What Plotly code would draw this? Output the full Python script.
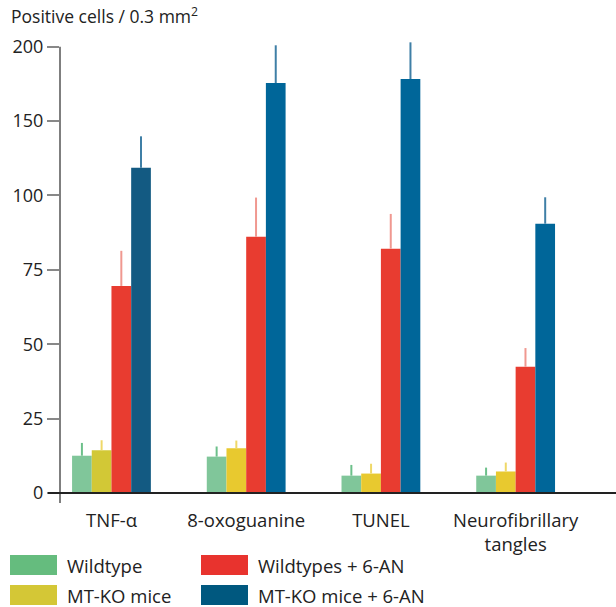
import plotly.graph_objects as go

# Data: positive cells per 0.3 mm^2 (mean and upper error)
categories = ["TNF-α", "8-oxoguanine", "TUNEL", "Neurofibrillary<br>tangles"]
wildtype = [12.5, 12.2, 5.8, 5.8]
wildtype_err = [4.3, 3.4, 3.6, 2.7]
mtko = [14.3, 15.0, 6.5, 7.2]
mtko_err = [3.4, 2.6, 3.3, 3.0]
wildtype_6an = [69.6, 86.1, 82.1, 42.4]
wildtype_6an_err = [11.8, 13.2, 11.7, 6.3]
mtko_6an = [118.6, 175.6, 178.3, 90.5]
mtko_6an_err = [21.2, 25.4, 24.7, 8.9]

tick_values = [0, 25, 50, 75, 100, 150, 200]

W, H = 616, 607
ML, MR, MT, MB = 60, 0, 23, 104
Y_MIN, Y_MAX = -3.4, 158
FONT = "Open Sans"


def scale(v):
    """Broken axis: linear to 100, then half scale above 100."""
    return v if v <= 100 else 100 + (v - 100) / 2.0


def err_len(vals, errs):
    return [scale(v + e) - scale(v) for v, e in zip(vals, errs)]


def px(x):
    return (x - ML) / (W - ML - MR)


def py(y):
    return (H - MB - y) / (H - MT - MB)


series = [
    ("Wildtype", wildtype, wildtype_err,
     ["#80c69a"] * 4, "#6cc08a", "#65bc7e"),
    ("MT-KO mice", mtko, mtko_err,
     ["#d2c836", "#e8c92f", "#e8c92f", "#e8c92f"], "#efd868", "#d4c736"),
    ("Wildtypes + 6-AN", wildtype_6an, wildtype_6an_err,
     ["#e83c30"] * 4, "#f09890", "#e8332e"),
    ("MT-KO mice + 6-AN", mtko_6an, mtko_6an_err,
     ["#135a82", "#006699", "#006699", "#006699"], "#3f7fa6", "#00587f"),
]

fig = go.Figure()
for name, vals, errs, colors, ecolor, _ in series:
    fig.add_trace(go.Bar(
        name=name,
        x=categories,
        y=[scale(v) for v in vals],
        customdata=vals,
        hovertemplate="%{x}: %{customdata}<extra>" + name + "</extra>",
        marker=dict(color=colors, line=dict(width=0)),
        error_y=dict(type="data", symmetric=False,
                     array=err_len(vals, errs), arrayminus=[0] * 4,
                     color=ecolor, thickness=2, width=0),
    ))

shapes = [
    # vertical axis line, stopping at the top tick
    dict(type="line", xref="paper", yref="y", x0=0, x1=0,
         y0=Y_MIN, y1=scale(200), line=dict(color="#555555", width=1.5)),
    # baseline
    dict(type="line", xref="paper", yref="y", x0=px(48), x1=1,
         y0=0, y1=0, line=dict(color="#222222", width=2)),
]

annotations = [
    dict(text="Positive cells / 0.3 mm<sup>2</sup>", xref="paper", yref="paper",
         x=px(9), y=py(15), xanchor="left", yanchor="middle", showarrow=False,
         font=dict(family=FONT, size=17.5, color="#222222")),
]

# legend: two columns of large swatches
legend_items = [
    ("Wildtype", series[0][5], 10, 555),
    ("MT-KO mice", series[1][5], 10, 585),
    ("Wildtypes + 6-AN", series[2][5], 201, 555),
    ("MT-KO mice + 6-AN", series[3][5], 201, 585),
]
for label, color, x0, y0 in legend_items:
    shapes.append(dict(type="rect", xref="paper", yref="paper",
                       x0=px(x0), x1=px(x0 + 47), y0=py(y0), y1=py(y0 + 20),
                       fillcolor=color, line=dict(width=0)))
    annotations.append(dict(text=label, xref="paper", yref="paper",
                            x=px(x0 + 55), y=py(y0 + 10.5), xanchor="left",
                            yanchor="middle", showarrow=False,
                            font=dict(family=FONT, size=18.5, color="#222222")))

fig.update_layout(
    width=W, height=H,
    margin=dict(l=ML, r=MR, t=MT, b=MB, pad=0),
    paper_bgcolor="white", plot_bgcolor="white",
    barmode="group", bargap=0.415, bargroupgap=0,
    showlegend=False,
    font=dict(family=FONT, color="#222222"),
    xaxis=dict(type="category", range=[-0.382, 3.745], showline=False,
               showgrid=False, zeroline=False, ticks="",
               ticklabelstandoff=4,
               tickfont=dict(family=FONT, size=18.5, color="#222222")),
    yaxis=dict(range=[Y_MIN, Y_MAX], showline=False, showgrid=False,
               zeroline=False,
               tickvals=[scale(t) for t in tick_values],
               ticktext=[str(t) for t in tick_values],
               ticks="outside", ticklen=12, tickwidth=1.5, tickcolor="#888888",
               tickfont=dict(family=FONT, size=18, color="#222222")),
    shapes=shapes,
    annotations=annotations,
)

fig.write_html("out.html")
